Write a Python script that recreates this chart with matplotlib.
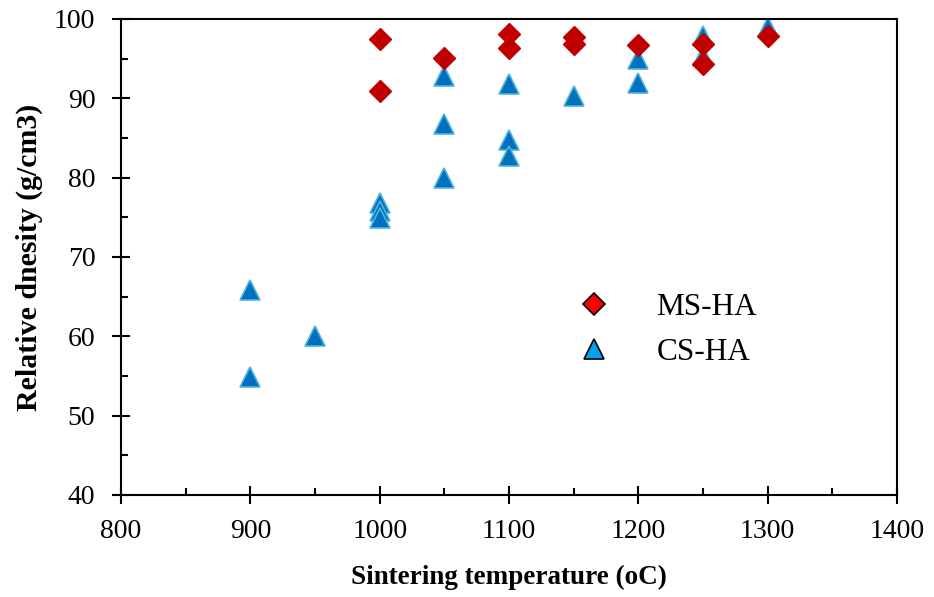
import numpy as np
import matplotlib
matplotlib.use("Agg")
import matplotlib.pyplot as plt
from matplotlib.lines import Line2D
from matplotlib.ticker import MultipleLocator

plt.rcParams['font.family'] = ['Liberation Serif', 'DejaVu Serif']

# MS-HA (red diamonds)
ms_temp = [1000, 1000, 1050, 1100, 1100, 1150, 1150, 1200, 1250, 1250, 1300]
ms_dens = [97.5, 90.9, 95.1, 98.1, 96.4, 97.7, 96.9, 96.7, 96.9, 94.3, 97.9]

# CS-HA (blue triangles)
cs_temp = [900, 900, 950, 1000, 1000, 1000, 1050, 1050, 1050,
           1100, 1100, 1100, 1150, 1200, 1200, 1250, 1250, 1300]
cs_dens = [65.9, 54.9, 60.0, 76.8, 75.8, 74.9, 92.8, 86.8, 80.0,
           91.8, 84.8, 82.7, 90.3, 95.0, 91.9, 97.8, 95.3, 99.0]

fig = plt.figure(figsize=(9.34, 5.97), dpi=100)
ax = fig.add_axes([0.1296, 0.1709, 0.8308, 0.7973])

ax.plot(cs_temp, cs_dens, linestyle='none', marker='^', markersize=14,
        markerfacecolor='#0070C0', markeredgecolor='#4FB3DA', markeredgewidth=1.2)
ax.plot(ms_temp, ms_dens, linestyle='none', marker='D', markersize=11.5,
        markerfacecolor='#C00000', markeredgecolor='#C00000', markeredgewidth=1.0)

ax.set_xlim(800, 1400)
ax.set_ylim(40, 100)
ax.xaxis.set_major_locator(MultipleLocator(100))
ax.xaxis.set_minor_locator(MultipleLocator(50))
ax.yaxis.set_major_locator(MultipleLocator(10))
ax.yaxis.set_minor_locator(MultipleLocator(5))
ax.tick_params(which='major', direction='inout', length=13, width=1.5,
               labelsize=20)
ax.tick_params(which='minor', direction='in', length=5, width=1.5)
ax.tick_params(axis='x', which='major', pad=11)
ax.tick_params(axis='y', which='major', pad=12)
for s in ax.spines.values():
    s.set_linewidth(1.5)

ax.set_xlabel('Sintering temperature (oC)', fontsize=19.5, fontweight='bold', labelpad=15)
ax.set_ylabel('Relative dnesity (g/cm3)', fontsize=21.5, fontweight='bold', labelpad=8)

handles = [
    Line2D([], [], linestyle='none', marker='D', markersize=11,
           markerfacecolor='#FF0000', markeredgecolor='black', markeredgewidth=1.2),
    Line2D([], [], linestyle='none', marker='^', markersize=14,
           markerfacecolor='#00A2F0', markeredgecolor='black', markeredgewidth=1.2),
]
ax.legend(handles, ['MS-HA', 'CS-HA'], frameon=False, loc='center left',
          bbox_to_anchor=(0.549, 0.346), fontsize=22.5, handlelength=1.2,
          handletextpad=1.4, labelspacing=0.52)

fig.savefig('out.png', dpi=100)
